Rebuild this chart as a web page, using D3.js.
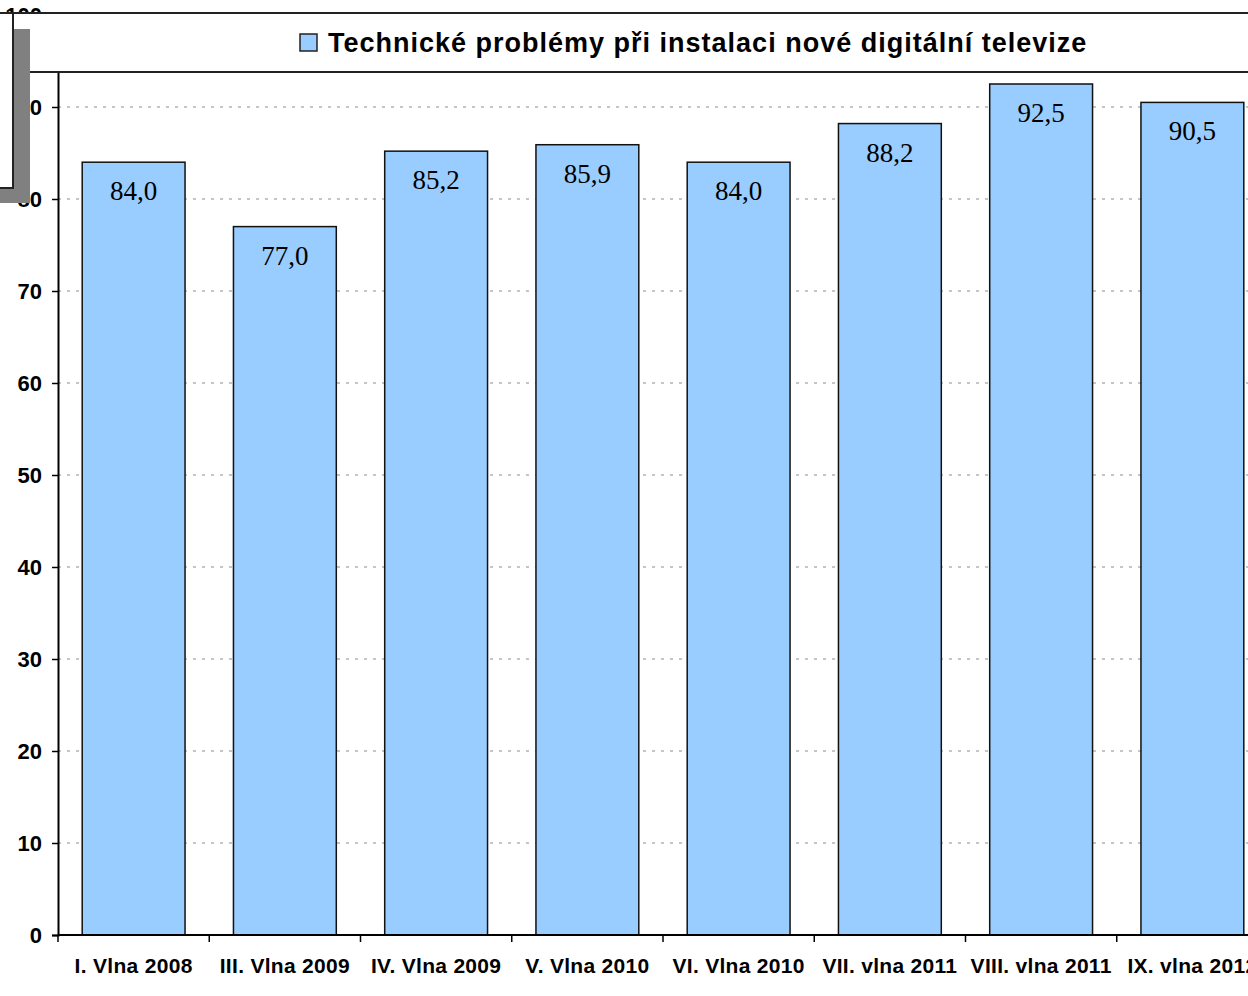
<!DOCTYPE html>
<html>
<head>
<meta charset="utf-8">
<script src="https://cdn.jsdelivr.net/npm/d3@7"></script>
<style>
  body { margin: 0; background: #fff; }
  svg { display: block; }
</style>
</head>
<body>
<div id="chart-area"></div>
<script>
const categories = ["I. Vlna 2008", "III. Vlna 2009", "IV. Vlna 2009", "V. Vlna 2010",
  "VI. Vlna 2010", "VII. vlna 2011", "VIII. vlna 2011", "IX. vlna 2012"];
const values = [84.0, 77.0, 85.2, 85.9, 84.0, 88.2, 92.5, 90.5];
const yTicks = [0, 10, 20, 30, 40, 50, 60, 70, 80, 90, 100];
const seriesName = "Technické problémy při instalaci nové digitální televize";

const W = 1248, H = 996;
const plotLeft = 58, plotRight = 1268, plotTop = 15, plotBottom = 935;
const barFill = "#99CCFF";

const svg = d3.select("#chart-area")
  .append("svg")
  .attr("width", W)
  .attr("height", H);

const x = d3.scaleBand()
  .domain(categories)
  .range([plotLeft, plotRight])
  .paddingInner(0.32)
  .paddingOuter(0.16);

const xTickScale = d3.scaleBand()
  .domain(categories)
  .range([plotLeft, plotRight]);

const y = d3.scaleLinear()
  .domain([0, 100])
  .range([plotBottom, plotTop]);

// gridlines
svg.append("g")
  .selectAll("line")
  .data(yTicks.filter(d => d > 0))
  .join("line")
  .attr("x1", plotLeft)
  .attr("x2", W)
  .attr("y1", d => y(d))
  .attr("y2", d => y(d))
  .attr("stroke", "#8c8c8c")
  .attr("stroke-width", 1)
  .attr("stroke-dasharray", "3,6");

// bars
svg.append("g")
  .selectAll("rect")
  .data(values)
  .join("rect")
  .attr("x", (d, i) => x(categories[i]))
  .attr("y", d => y(d))
  .attr("width", x.bandwidth())
  .attr("height", d => plotBottom - y(d))
  .attr("fill", barFill)
  .attr("stroke", "#111")
  .attr("stroke-width", 1.5);

// value labels
svg.append("g")
  .selectAll("text")
  .data(values)
  .join("text")
  .attr("x", (d, i) => x(categories[i]) + x.bandwidth() / 2)
  .attr("y", d => y(d) + 38)
  .attr("text-anchor", "middle")
  .attr("font-family", "Liberation Serif, Times New Roman, serif")
  .attr("font-size", "27px")
  .attr("fill", "#000")
  .text(d => d.toFixed(1).replace(".", ","));

// y axis
const yAxis = svg.append("g")
  .attr("transform", `translate(${plotLeft},0)`)
  .call(d3.axisLeft(y).tickValues(yTicks).tickSize(6).tickPadding(10));
yAxis.select(".domain").attr("stroke", "#000").attr("stroke-width", 2);
yAxis.selectAll(".tick line").attr("stroke", "#000").attr("stroke-width", 1.5);
yAxis.selectAll(".tick text")
  .attr("font-family", "Liberation Sans, Arial, sans-serif")
  .attr("font-weight", "bold")
  .attr("font-size", "22px")
  .attr("fill", "#000");

// x axis
svg.append("line")
  .attr("x1", plotLeft).attr("x2", W)
  .attr("y1", plotBottom).attr("y2", plotBottom)
  .attr("stroke", "#000").attr("stroke-width", 2);

svg.append("g")
  .selectAll("line")
  .data(categories)
  .join("line")
  .attr("x1", d => xTickScale(d))
  .attr("x2", d => xTickScale(d))
  .attr("y1", plotBottom)
  .attr("y2", plotBottom + 7)
  .attr("stroke", "#000")
  .attr("stroke-width", 1.5);

svg.append("g")
  .selectAll("text")
  .data(categories)
  .join("text")
  .attr("x", d => xTickScale(d) + xTickScale.bandwidth() / 2)
  .attr("y", 973)
  .attr("text-anchor", "middle")
  .attr("font-family", "Liberation Sans, Arial, sans-serif")
  .attr("font-weight", "bold")
  .attr("font-size", "21px")
  .attr("letter-spacing", "0.3px")
  .attr("fill", "#000")
  .text(d => d);

// legend box
svg.append("rect")
  .attr("x", -10).attr("y", 13)
  .attr("width", W + 20).attr("height", 59)
  .attr("fill", "#fff")
  .attr("stroke", "#222")
  .attr("stroke-width", 2);

const legend = svg.append("g");
legend.append("rect")
  .attr("x", 300).attr("y", 34)
  .attr("width", 17).attr("height", 17)
  .attr("fill", barFill)
  .attr("stroke", "#222")
  .attr("stroke-width", 1.5);
legend.append("text")
  .attr("x", 328).attr("y", 52)
  .attr("font-family", "Liberation Sans, Arial, sans-serif")
  .attr("font-weight", "bold")
  .attr("font-size", "27px")
  .attr("letter-spacing", "1px")
  .attr("fill", "#000")
  .text(seriesName);

// stray box with shadow at top-left
svg.append("rect")
  .attr("x", -10).attr("y", 29)
  .attr("width", 40).attr("height", 174)
  .attr("fill", "#808080");
svg.append("rect")
  .attr("x", -10).attr("y", 13)
  .attr("width", 23).attr("height", 175)
  .attr("fill", "#fff")
  .attr("stroke", "#222")
  .attr("stroke-width", 2);
</script>
</body>
</html>
